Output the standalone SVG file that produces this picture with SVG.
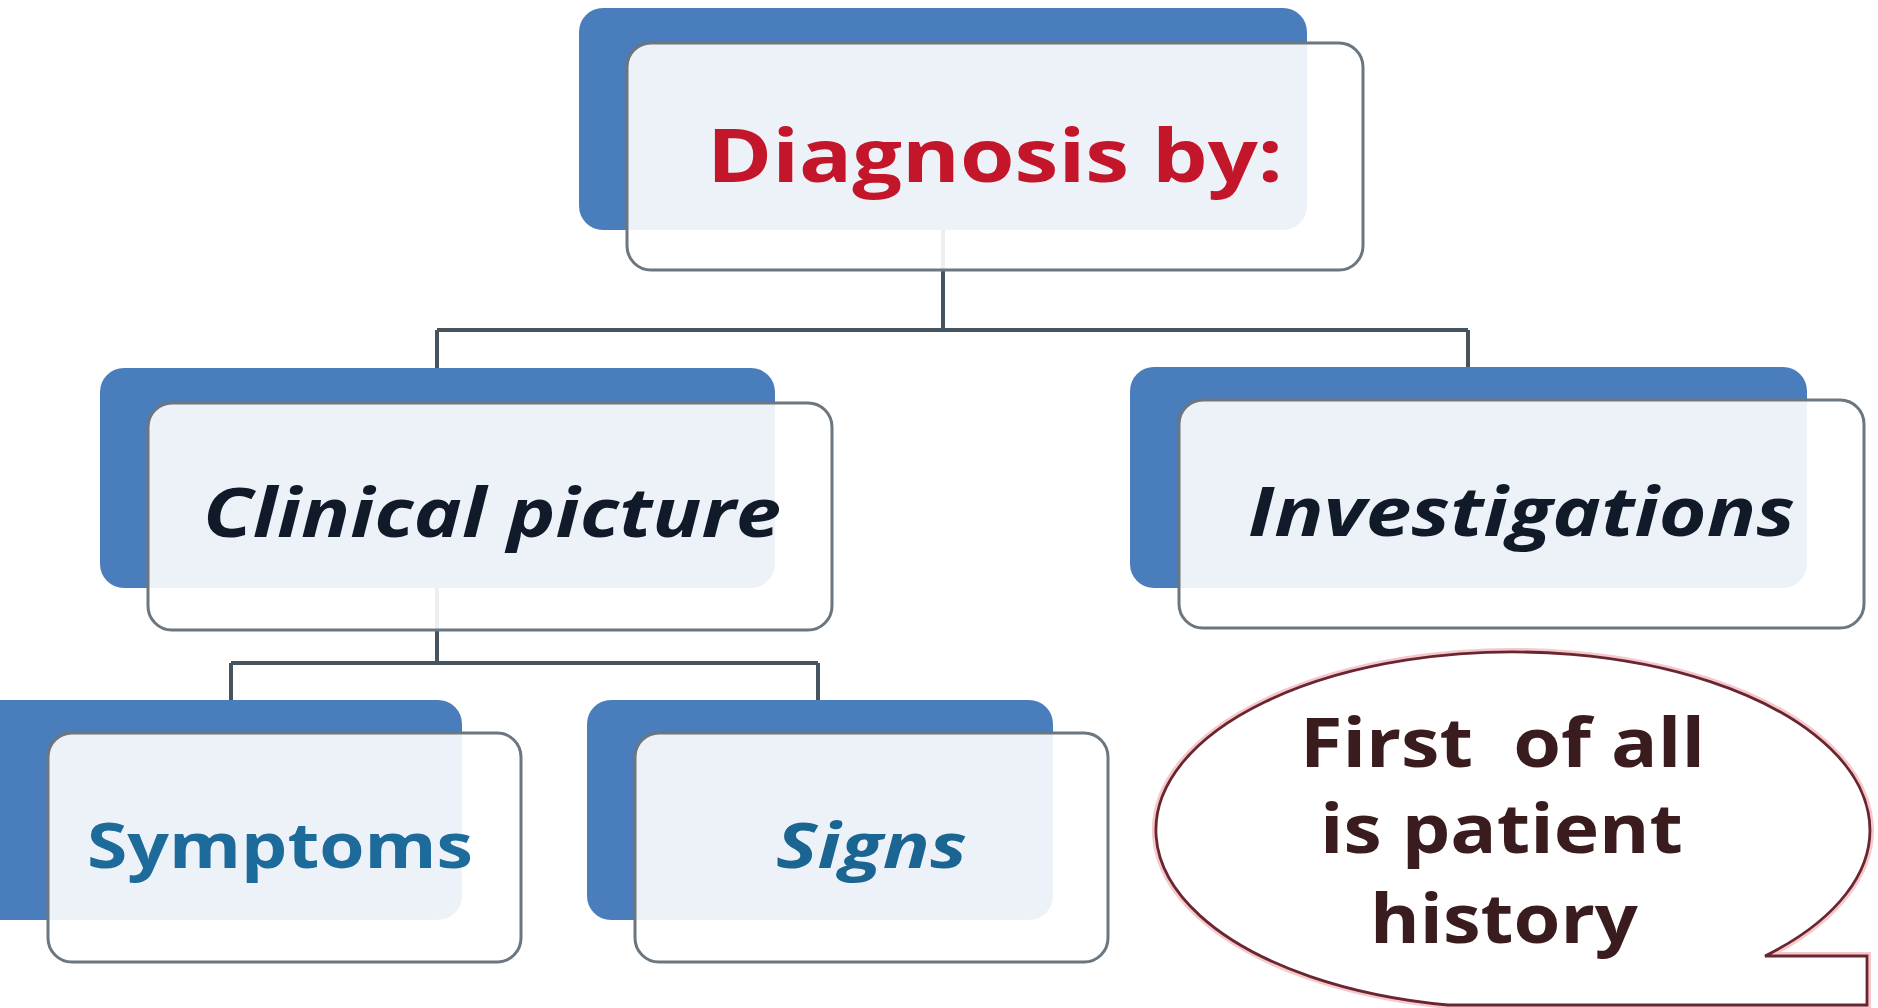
<svg xmlns="http://www.w3.org/2000/svg" width="1878" height="1008" viewBox="0 0 1878 1008">
<style>
.back{fill:#4a7dbb;}
.front{fill:#ffffff;fill-opacity:0.9;stroke:#6b767f;stroke-width:3;}
.conn{fill:none;stroke:#46545f;stroke-width:4;}
.t{font-family:"Open Sans","Noto Sans","Liberation Sans",sans-serif;font-weight:bold;}
.it{font-style:italic;}
.co{fill:#3a1c1e;font-size:68px;}
</style>
<rect width="1878" height="1008" fill="#ffffff"/>
<g id="connectors">
<path class="conn" d="M943 230 V330 M437 330 H1468 M437 330 V368 M1468 330 V368"/>
<path class="conn" d="M437 588 V663 M231 663 H818 M231 663 V700 M818 663 V700"/>
</g>
<g id="node-diagnosis">
<rect class="back" x="579" y="8" width="728" height="222" rx="24"/>
<rect class="front" x="627" y="43" width="736" height="227" rx="24"/>
<text class="t" x="707" y="182" font-size="74" fill="#c3162a" textLength="576" lengthAdjust="spacingAndGlyphs">Diagnosis by:</text>
</g>
<g id="node-clinical">
<rect class="back" x="100" y="368" width="675" height="220" rx="24"/>
<rect class="front" x="148" y="403" width="684" height="227" rx="24"/>
<text class="t it" x="203" y="537" font-size="68" fill="#111a29" textLength="578" lengthAdjust="spacingAndGlyphs">Clinical picture</text>
</g>
<g id="node-investigations">
<rect class="back" x="1130" y="367" width="677" height="221" rx="24"/>
<rect class="front" x="1179" y="400" width="685" height="228" rx="24"/>
<text class="t it" x="1248" y="536" font-size="68" fill="#111a29" textLength="547" lengthAdjust="spacingAndGlyphs">Investigations</text>
</g>
<g id="node-symptoms">
<rect class="back" x="-24" y="700" width="486" height="220" rx="24"/>
<rect class="front" x="48" y="733" width="473" height="229" rx="24"/>
<text class="t" x="87" y="868" font-size="62" fill="#1d6b9b" textLength="386" lengthAdjust="spacingAndGlyphs">Symptoms</text>
</g>
<g id="node-signs">
<rect class="back" x="587" y="700" width="466" height="220" rx="24"/>
<rect class="front" x="635" y="733" width="473" height="229" rx="24"/>
<text class="t it" x="776" y="868" font-size="62" fill="#1a6591" textLength="191" lengthAdjust="spacingAndGlyphs">Signs</text>
</g>
<g id="node-callout">
<path d="M1765 956 A357 178 0 1 0 1448 1005 L1867 1005 L1867 956 Z" fill="#ffffff" stroke="#f5c8cc" stroke-width="8"/>
<path d="M1765 956 A357 178 0 1 0 1448 1005 L1867 1005 L1867 956 Z" fill="#ffffff" stroke="#6a2630" stroke-width="2.8"/>
<text class="t co" x="1300" y="767" textLength="405" lengthAdjust="spacingAndGlyphs" xml:space="preserve">First  of all</text>
<text class="t co" x="1320" y="853" textLength="363" lengthAdjust="spacingAndGlyphs">is patient</text>
<text class="t co" x="1370" y="943" textLength="268" lengthAdjust="spacingAndGlyphs">history</text>
</g>
</svg>
